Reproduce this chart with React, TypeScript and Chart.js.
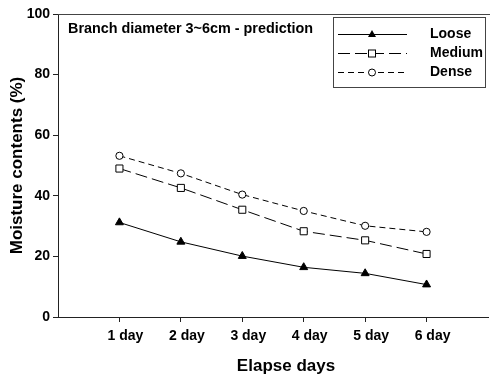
import React, { useEffect, useRef } from 'react';
import { Chart, registerables } from 'chart.js';
Chart.register(...registerables);

const days = [1, 2, 3, 4, 5, 6];
const dayLabels = ['1 day', '2 day', '3 day', '4 day', '5 day', '6 day'];
const loose = [31.2, 24.8, 20.1, 16.4, 14.4, 10.7];
const medium = [49.0, 42.6, 35.4, 28.3, 25.3, 20.8];
const dense = [53.2, 47.4, 40.4, 35.0, 30.1, 28.1];
const seriesNames = ['Loose', 'Medium', 'Dense'];
const chartTitle = 'Branch diameter 3~6cm - prediction';
const xTitle = 'Elapse days';
const yTitle = 'Moisture contents (%)';

const FONT = "'Liberation Sans', Arial, Helvetica, sans-serif";
const INK = '#000';
const AXIS = '#222';

const toPts = (vals: number[]) => vals.map((v, i) => ({ x: days[i], y: v }));

const overlay = {
  id: 'overlay',
  afterDraw(chart: any) {
    const { ctx, chartArea } = chart;
    ctx.save();
    ctx.strokeStyle = '#444';
    ctx.lineWidth = 1;
    ctx.beginPath();
    ctx.moveTo(chartArea.left, Math.round(chartArea.top) + 0.5);
    ctx.lineTo(chart.width, Math.round(chartArea.top) + 0.5);
    ctx.stroke();

    ctx.fillStyle = INK;
    ctx.font = `bold 14.4px ${FONT}`;
    ctx.textAlign = 'left';
    ctx.textBaseline = 'middle';
    ctx.fillText(chartTitle, 68, 29);

    ctx.strokeStyle = '#444';
    ctx.lineWidth = 1;
    ctx.strokeRect(333.5, 17.5, 152, 70);
    const rows = [34, 53, 72];
    const dashes = [[], [12, 5], [6, 4]];
    rows.forEach((y, i) => {
      ctx.strokeStyle = INK;
      ctx.lineWidth = 1;
      ctx.setLineDash(dashes[i]);
      ctx.beginPath();
      ctx.moveTo(338, y + 0.5);
      ctx.lineTo(407, y + 0.5);
      ctx.stroke();
      ctx.setLineDash([]);
      const mx = 372;
      if (i === 0) {
        ctx.fillStyle = INK;
        ctx.beginPath();
        ctx.moveTo(mx, y - 4);
        ctx.lineTo(mx + 4, y + 3);
        ctx.lineTo(mx - 4, y + 3);
        ctx.closePath();
        ctx.fill();
      } else if (i === 1) {
        ctx.fillStyle = '#fff';
        ctx.fillRect(mx - 3.5, y - 3, 7, 7);
        ctx.strokeRect(mx - 3.5, y - 3, 7, 7);
      } else {
        ctx.fillStyle = '#fff';
        ctx.beginPath();
        ctx.arc(mx, y + 0.5, 3.5, 0, Math.PI * 2);
        ctx.fill();
        ctx.stroke();
      }
      ctx.fillStyle = INK;
      ctx.font = `bold 14px ${FONT}`;
      ctx.textAlign = 'left';
      ctx.textBaseline = 'middle';
      ctx.fillText(seriesNames[i], 430, y);
    });

    ctx.font = `bold 17px ${FONT}`;
    ctx.textAlign = 'center';
    ctx.textBaseline = 'middle';
    ctx.fillStyle = INK;
    ctx.fillText(xTitle, 286, 366);
    ctx.restore();
  },
};

export default function App() {
  const ref = useRef<HTMLCanvasElement>(null);
  useEffect(() => {
    document.documentElement.style.overflow = 'hidden';
    document.body.style.overflow = 'hidden';
    document.body.style.margin = '0';
    const chart = new Chart(ref.current as HTMLCanvasElement, {
      type: 'line',
      data: {
        datasets: [
          { label: seriesNames[0], data: toPts(loose), borderColor: INK, backgroundColor: INK, borderWidth: 1, pointStyle: 'triangle', pointRadius: 4.6, pointBorderWidth: 1 },
          { label: seriesNames[1], data: toPts(medium), borderColor: INK, backgroundColor: '#fff', borderWidth: 1, borderDash: [12, 5], pointStyle: 'rect', pointRadius: 5, pointBorderWidth: 1 },
          { label: seriesNames[2], data: toPts(dense), borderColor: INK, backgroundColor: '#fff', borderWidth: 1, borderDash: [6, 4], pointStyle: 'circle', pointRadius: 3.6, pointBorderWidth: 1 },
        ],
      },
      options: {
        responsive: false,
        animation: false,
        devicePixelRatio: 1,
        layout: { padding: { top: 14, right: 2, left: 0, bottom: 0 } },
        plugins: { legend: { display: false }, tooltip: { enabled: false } },
        font: { family: FONT },
        scales: {
          x: {
            type: 'linear',
            min: 0,
            max: 7,
            afterBuildTicks: (s: any) => { s.ticks = days.map((d) => ({ value: d })); },
            afterFit: (s: any) => { s.height = 59; },
            grid: { drawOnChartArea: false, drawTicks: true, tickLength: 5, color: AXIS },
            border: { display: true, color: AXIS, width: 1 },
            ticks: {
              color: INK, font: { family: FONT, size: 14, weight: 'bold' }, padding: 6, labelOffset: 6, maxRotation: 0, autoSkip: false,
              callback: (v: any) => dayLabels[days.indexOf(Number(v))] ?? '',
            },
          },
          y: {
            min: 0,
            max: 100,
            afterFit: (s: any) => { s.width = 58; },
            grid: { drawOnChartArea: false, drawTicks: true, tickLength: 5, color: AXIS },
            border: { display: true, color: AXIS, width: 1 },
            ticks: { stepSize: 20, color: INK, font: { family: FONT, size: 14, weight: 'bold' }, padding: 3 },
            title: { display: true, text: yTitle, color: INK, font: { family: FONT, size: 17, weight: 'bold' }, padding: { top: 7, bottom: 0 } },
          },
        },
      },
      plugins: [overlay],
    } as any);
    return () => chart.destroy();
  }, []);
  return (
    <div style={{ position: 'absolute', left: 0, top: 0, width: 494, height: 376, background: '#fff' }}>
      <canvas ref={ref} width={494} height={376} style={{ display: 'block', width: 494, height: 376 }} />
    </div>
  );
}
